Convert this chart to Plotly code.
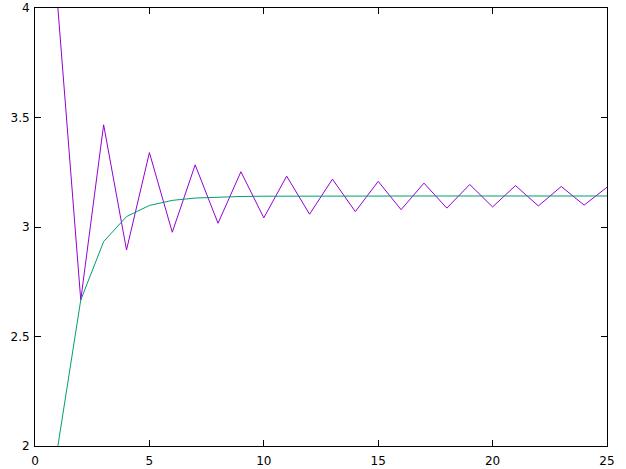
import plotly.graph_objects as go

# partial sums, n = 1..25
n = list(range(1, 26))
leibniz = [4.0, 2.6667, 3.4667, 2.8952, 3.3397, 2.9760, 3.2837, 3.0171, 3.2524, 3.0418,
           3.2323, 3.0584, 3.2184, 3.0703, 3.2082, 3.0792, 3.2004, 3.0861, 3.1942, 3.0916,
           3.1892, 3.0961, 3.1850, 3.0999, 3.1816]
euler = [2.0, 2.6667, 2.9333, 3.0476, 3.0984, 3.1215, 3.1322, 3.1371, 3.1394, 3.1405,
         3.1411, 3.1413, 3.1415, 3.1415, 3.1416, 3.1416, 3.1416, 3.1416, 3.1416, 3.1416,
         3.1416, 3.1416, 3.1416, 3.1416, 3.1416]

x_ticks = [0, 5, 10, 15, 20, 25]
y_ticks = [2, 2.5, 3, 3.5, 4]
y_labels = ["2", "2.5", "3", "3.5", "4"]

fig = go.Figure()
fig.add_trace(go.Scatter(x=n, y=leibniz, mode="lines", line=dict(color="#9400d3", width=1)))
fig.add_trace(go.Scatter(x=n, y=euler, mode="lines", line=dict(color="#009e73", width=1)))

fig.update_layout(
    width=626, height=469,
    paper_bgcolor="white", plot_bgcolor="white",
    margin=dict(l=35, r=19, t=8, b=23),
    showlegend=False,
    font=dict(family="DejaVu Sans", size=12, color="black"),
)
fig.update_xaxes(range=[0, 25], tickvals=x_ticks, showgrid=False, zeroline=False, automargin=False,
                 showline=True, linecolor="black", linewidth=1, mirror="ticks",
                 ticks="inside", ticklen=6, tickcolor="black", ticklabelstandoff=4)
fig.update_yaxes(range=[2, 4], tickvals=y_ticks, ticktext=y_labels, showgrid=False, zeroline=False,
                 automargin=False, showline=True, linecolor="black", linewidth=1, mirror="ticks",
                 ticks="inside", ticklen=6, tickcolor="black", ticklabelstandoff=2)

# body margin off so the figure sits at the window's corner
fig.write_html("out.html", config={"displayModeBar": False},
               post_script="document.body.style.margin='0';document.body.style.overflow='hidden';")
